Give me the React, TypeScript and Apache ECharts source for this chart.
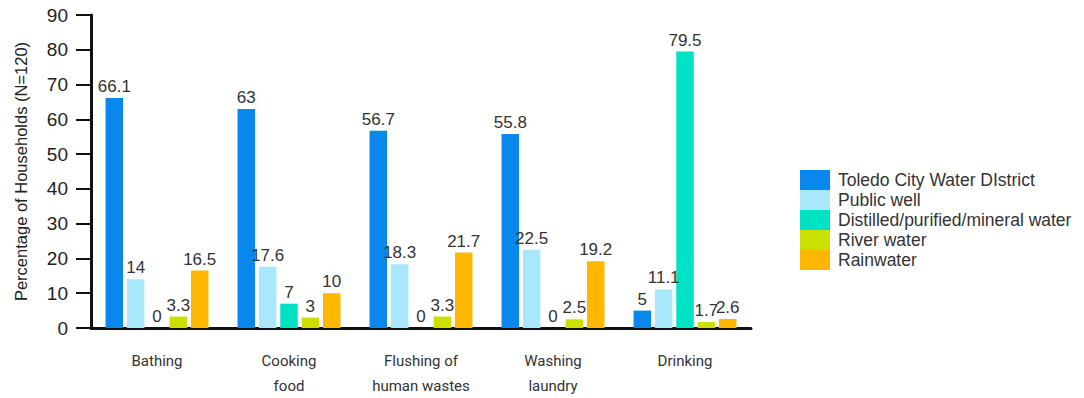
import React, { useEffect, useRef } from "react";
import * as echarts from "echarts";

// Household water uses and the share of households using each source
const categories = [
  "Bathing",
  "Cooking\nfood",
  "Flushing of\nhuman wastes",
  "Washing\nlaundry",
  "Drinking",
];

const sourceNames = [
  "Toledo City Water DIstrict",
  "Public well",
  "Distilled/purified/mineral water",
  "River water",
  "Rainwater",
];

const toledoCity = [66.1, 63, 56.7, 55.8, 5];
const publicWell = [14, 17.6, 18.3, 22.5, 11.1];
const distilled = [0, 7, 0, 0, 79.5];
const riverWater = [3.3, 3, 3.3, 2.5, 1.7];
const rainwater = [16.5, 10, 21.7, 19.2, 2.6];

const sourceValues = [toledoCity, publicWell, distilled, riverWater, rainwater];
const sourceColors = ["#0a87ec", "#a9e8fc", "#00e2c4", "#cbe000", "#ffb700"];

const yTicks = [0, 10, 20, 30, 40, 50, 60, 70, 80, 90];

const sans = "Liberation Sans, Arial, sans-serif";

export default function App() {
  const ref = useRef<HTMLDivElement>(null);

  useEffect(() => {
    if (!ref.current) return;
    const chart = echarts.init(ref.current, null, { renderer: "svg" });

    const series = sourceNames.map((name, i) => ({
      name,
      type: "bar" as const,
      data: sourceValues[i],
      barWidth: 17.5,
      barGap: "22%",
      itemStyle: { color: sourceColors[i] },
      label: {
        show: true,
        position: "top" as const,
        distance: 3,
        color: "#333",
        fontFamily: sans,
        fontSize: 17,
      },
    }));

    chart.setOption({
      animation: false,
      grid: { left: 91, right: 333, top: 15, bottom: 70 },
      legend: {
        orient: "vertical",
        left: 795,
        top: 165,
        itemWidth: 30,
        itemHeight: 20,
        itemGap: 0,
        icon: "rect",
        data: sourceNames,
        textStyle: {
          color: "#333",
          fontFamily: sans,
          fontSize: 17.5,
          padding: [0, 0, 0, 3],
        },
      },
      xAxis: {
        type: "category",
        data: categories,
        axisLine: { lineStyle: { color: "#111", width: 3 } },
        axisTick: {
          alignWithLabel: true,
          length: 17,
          lineStyle: { color: "#222", width: 2 },
        },
        axisLabel: {
          margin: 20,
          color: "#333",
          fontFamily: "Roboto, sans-serif",
          fontSize: 15,
          lineHeight: 25,
        },
      },
      yAxis: {
        type: "value",
        min: yTicks[0],
        max: yTicks[yTicks.length - 1],
        interval: 10,
        name: "Percentage of Households (N=120)",
        nameLocation: "middle",
        nameGap: 62,
        nameTextStyle: {
          color: "#222",
          fontFamily: sans,
          fontSize: 16.5,
        },
        splitLine: { show: false },
        axisLine: { show: true, lineStyle: { color: "#111", width: 3 } },
        axisTick: { show: true, length: 15, lineStyle: { color: "#111", width: 2 } },
        axisLabel: {
          margin: 23,
          color: "#222",
          fontFamily: sans,
          fontSize: 19,
        },
      },
      series,
    });

    return () => chart.dispose();
  }, []);

  return (
    <div
      ref={ref}
      style={{ position: "absolute", left: 0, top: 0, width: 1084, height: 398 }}
    />
  );
}
